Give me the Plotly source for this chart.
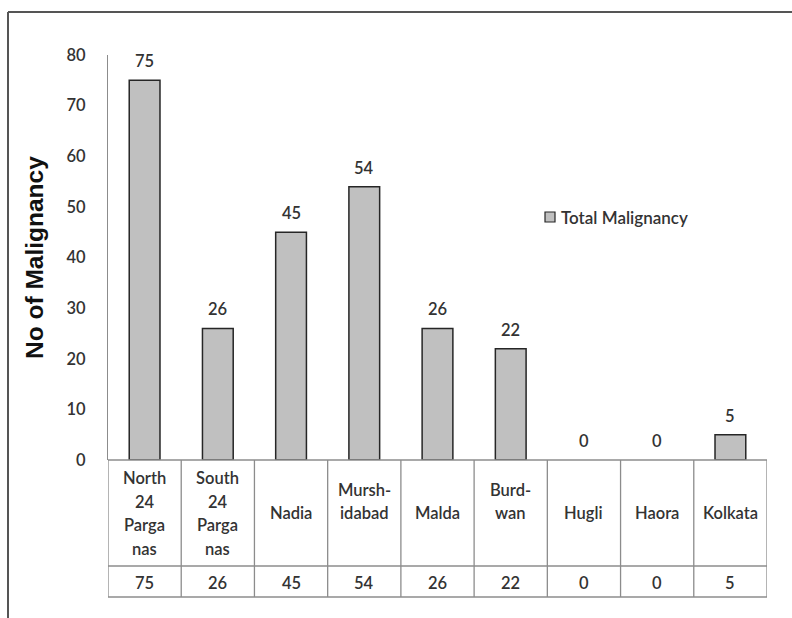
import plotly.graph_objects as go

# District-wise malignancy counts
districts = ["North 24 Parganas", "South 24 Parganas", "Nadia", "Murshidabad",
             "Malda", "Burdwan", "Hugli", "Haora", "Kolkata"]
table_labels = ["North<br>24<br>Parga<br>nas", "South<br>24<br>Parga<br>nas", "Nadia",
                "Mursh-<br>idabad", "Malda", "Burd-<br>wan", "Hugli", "Haora", "Kolkata"]
malignancy = [75, 26, 45, 54, 26, 22, 0, 0, 5]
series_name = "Total Malignancy"
y_ticks = [0, 10, 20, 30, 40, 50, 60, 70, 80]

W, H = 792, 618
L, R, T, B = 108, 767, 55, 460   # plot area in pixels
PW, PH = R - L, B - T

def px(x):
    return (x - L) / PW

def py(y):
    return (B - y) / PH

TEXT = "#333333"
GRID = "#8c8c8c"
FONT = "Lato"
FS = 16.5

xs = list(range(len(districts)))

fig = go.Figure()
fig.add_trace(go.Bar(
    x=xs, y=malignancy, name=series_name, width=0.42,
    marker=dict(color="#c0c0c0",
                line=dict(color="#262626", width=[1.5 if v > 0 else 0 for v in malignancy])),
    showlegend=False,
))

shapes = []
annotations = []

# value labels above the bars
for i, v in enumerate(malignancy):
    annotations.append(dict(x=i, y=v, xref="x", yref="y", text=str(v), showarrow=False,
                            yanchor="middle", yshift=19,
                            font=dict(family=FONT, size=FS, color=TEXT, weight=600)))

# data table beneath the axis
row_sep, table_bottom = 566, 597
for k in range(len(districts) + 1):
    shapes.append(dict(type="line", xref="x", yref="paper", x0=k - 0.5, x1=k - 0.5,
                       y0=py(B), y1=py(table_bottom), line=dict(color=GRID, width=1.3)))
for yy in (B, row_sep, table_bottom):
    shapes.append(dict(type="line", xref="x", yref="paper", x0=-0.5, x1=len(districts) - 0.5,
                       y0=py(yy), y1=py(yy), line=dict(color=GRID, width=1.3)))

line_gap = 23.7
centers = {1: 513, 2: 501.5, 3: 513, 4: 513.5}
for i, lab in enumerate(table_labels):
    lines = lab.split("<br>")
    n = len(lines)
    c = centers.get(n, 513)
    for j, ln in enumerate(lines):
        yy = c + (j - (n - 1) / 2) * line_gap
        annotations.append(dict(x=i, y=py(yy), xref="x", yref="paper", text=ln,
                                showarrow=False, yanchor="middle",
                                font=dict(family=FONT, size=FS, color=TEXT, weight=600)))
    annotations.append(dict(x=i, y=py(583), xref="x", yref="paper", text=str(malignancy[i]),
                            showarrow=False, yanchor="middle",
                            font=dict(family=FONT, size=FS, color=TEXT, weight=600)))

# legend key
shapes.append(dict(type="rect", xref="paper", yref="paper",
                   x0=px(545), x1=px(555), y0=py(222), y1=py(212),
                   fillcolor="#c0c0c0", line=dict(color="#262626", width=1.2)))
annotations.append(dict(x=px(559), y=py(217), xref="paper", yref="paper", text=series_name,
                        showarrow=False, xanchor="left", yanchor="middle",
                        font=dict(family=FONT, size=17, color=TEXT, weight=600)))

# y-axis title
annotations.append(dict(x=px(34), y=py(258), xref="paper", yref="paper", text="No of Malignancy",
                        showarrow=False, textangle=-90, xanchor="center", yanchor="middle",
                        font=dict(family="Liberation Sans", size=24.5, color="#111111", weight="bold")))

# outer frame
shapes.append(dict(type="line", xref="paper", yref="paper", x0=px(8), x1=px(8),
                   y0=py(12), y1=py(H + 5), line=dict(color="#555555", width=2)))
shapes.append(dict(type="line", xref="paper", yref="paper", x0=px(8), x1=px(W + 5),
                   y0=py(12), y1=py(12), line=dict(color="#555555", width=2)))

fig.update_layout(
    width=W, height=H,
    margin=dict(l=L, r=W - R, t=T, b=H - B),
    paper_bgcolor="white", plot_bgcolor="white",
    shapes=shapes, annotations=annotations,
    xaxis=dict(range=[-0.5, len(districts) - 0.5], showticklabels=False, showgrid=False,
               zeroline=False, showline=False, ticks=""),
    yaxis=dict(range=[0, 80], tickvals=y_ticks, showgrid=False, zeroline=False,
               showline=True, linecolor=GRID, linewidth=1.3, ticks="",
               ticklabelstandoff=18,
               tickfont=dict(family=FONT, size=FS, color=TEXT, weight=600)),
    font=dict(family=FONT),
)

fig.write_html("out.html")
